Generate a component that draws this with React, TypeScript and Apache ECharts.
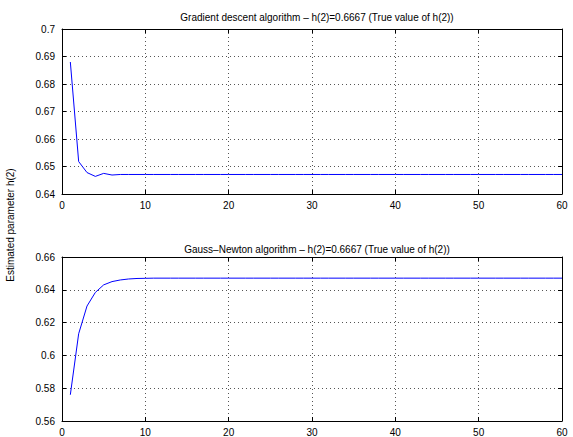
import React, { useEffect, useRef } from "react";
import * as echarts from "echarts";

const xTicks = [0, 10, 20, 30, 40, 50, 60];
const gradientValues = [
  0.6880, 0.6518, 0.6478, 0.6464, 0.6475, 0.6469, 0.6471, 0.6471, 0.6471, 0.6471,
  0.6471, 0.6471, 0.6471, 0.6471, 0.6471, 0.6471, 0.6471, 0.6471, 0.6471, 0.6471,
  0.6471, 0.6471, 0.6471, 0.6471, 0.6471, 0.6471, 0.6471, 0.6471, 0.6471, 0.6471,
  0.6471, 0.6471, 0.6471, 0.6471, 0.6471, 0.6471, 0.6471, 0.6471, 0.6471, 0.6471,
  0.6471, 0.6471, 0.6471, 0.6471, 0.6471, 0.6471, 0.6471, 0.6471, 0.6471, 0.6471,
  0.6471, 0.6471, 0.6471, 0.6471, 0.6471, 0.6471, 0.6471, 0.6471, 0.6471, 0.6471,
];
const gaussNewtonValues = [
  0.5760, 0.6132, 0.6301, 0.6384, 0.6430, 0.6450, 0.6460, 0.6466, 0.6469, 0.6470,
  0.6471, 0.6471, 0.6471, 0.6471, 0.6471, 0.6471, 0.6471, 0.6471, 0.6471, 0.6471,
  0.6471, 0.6471, 0.6471, 0.6471, 0.6471, 0.6471, 0.6471, 0.6471, 0.6471, 0.6471,
  0.6471, 0.6471, 0.6471, 0.6471, 0.6471, 0.6471, 0.6471, 0.6471, 0.6471, 0.6471,
  0.6471, 0.6471, 0.6471, 0.6471, 0.6471, 0.6471, 0.6471, 0.6471, 0.6471, 0.6471,
  0.6471, 0.6471, 0.6471, 0.6471, 0.6471, 0.6471, 0.6471, 0.6471, 0.6471, 0.6471,
];
const topTitle = "Gradient descent algorithm – h(2)=0.6667 (True value of h(2))";
const bottomTitle = "Gauss–Newton algorithm – h(2)=0.6667 (True value of h(2))";
const yLabel = "Estimated parameter h(2)";
const topYRange = { min: 0.64, max: 0.7, interval: 0.01 };
const bottomYRange = { min: 0.56, max: 0.66, interval: 0.02 };

const FONT = "'Liberation Sans', Arial, Helvetica, sans-serif";

export default function App() {
  const ref = useRef<HTMLDivElement>(null);
  useEffect(() => {
    if (!ref.current) return;
    const chart = echarts.init(ref.current, null, { renderer: "svg" });
    const fmt = (v: number) => String(+v.toFixed(4));
    const gridLine = { show: true, lineStyle: { color: "#555", type: [1, 3] as any, width: 1 } };
    const axisLine = { show: true, onZero: false, lineStyle: { color: "#000", width: 1 } };
    const tick = { show: true, inside: true, length: 4, lineStyle: { color: "#000" } };
    const label = { color: "#000", fontSize: 10, fontFamily: FONT };

    const xAxes: any[] = [];
    const yAxes: any[] = [];
    [0, 1].forEach((g) => {
      xAxes.push({
        type: "value", gridIndex: g, min: xTicks[0], max: xTicks[xTicks.length - 1], interval: 10,
        position: "bottom", axisLine, axisTick: tick,
        axisLabel: { ...label, margin: 6 }, splitLine: gridLine,
      });
      xAxes.push({
        type: "value", gridIndex: g, min: xTicks[0], max: xTicks[xTicks.length - 1], interval: 10,
        position: "top", axisLine, axisTick: tick, axisLabel: { show: false }, splitLine: { show: false },
      });
      const r = g === 0 ? topYRange : bottomYRange;
      yAxes.push({
        type: "value", gridIndex: g, min: r.min, max: r.max, interval: r.interval,
        position: "left", axisLine, axisTick: tick,
        axisLabel: { ...label, margin: 7, formatter: fmt }, splitLine: gridLine,
      });
      yAxes.push({
        type: "value", gridIndex: g, min: r.min, max: r.max, interval: r.interval,
        position: "right", axisLine, axisTick: tick, axisLabel: { show: false }, splitLine: { show: false },
      });
    });

    chart.setOption({
      animation: false,
      backgroundColor: "#fff",
      title: [
        { text: topTitle, left: 312, top: 7, textAlign: "center",
          textStyle: { fontSize: 10, fontWeight: "normal", color: "#000", fontFamily: FONT } },
        { text: bottomTitle, left: 312, top: 239, textAlign: "center",
          textStyle: { fontSize: 10, fontWeight: "normal", color: "#000", fontFamily: FONT } },
      ],
      grid: [
        { left: 62, right: 11, top: 29, height: 165 },
        { left: 62, right: 11, top: 257, height: 166 },
      ],
      xAxis: xAxes,
      yAxis: yAxes,
      graphic: [
        { type: "text", x: 5, y: 225, rotation: Math.PI / 2,
          style: { text: yLabel, fill: "#000", fontSize: 10, fontFamily: FONT, align: "center", verticalAlign: "top" } },
      ],
      series: [
        { type: "line", xAxisIndex: 0, yAxisIndex: 0, showSymbol: false,
          lineStyle: { color: "#0000ff", width: 1 },
          data: gradientValues.map((v, i) => [i + 1, v]) },
        { type: "line", xAxisIndex: 2, yAxisIndex: 2, showSymbol: false,
          lineStyle: { color: "#0000ff", width: 1 },
          data: gaussNewtonValues.map((v, i) => [i + 1, v]) },
      ],
    });
    return () => chart.dispose();
  }, []);
  return (
    <div ref={ref} style={{ position: "fixed", left: 0, top: 0, width: 573, height: 437, background: "#fff" }} />
  );
}
